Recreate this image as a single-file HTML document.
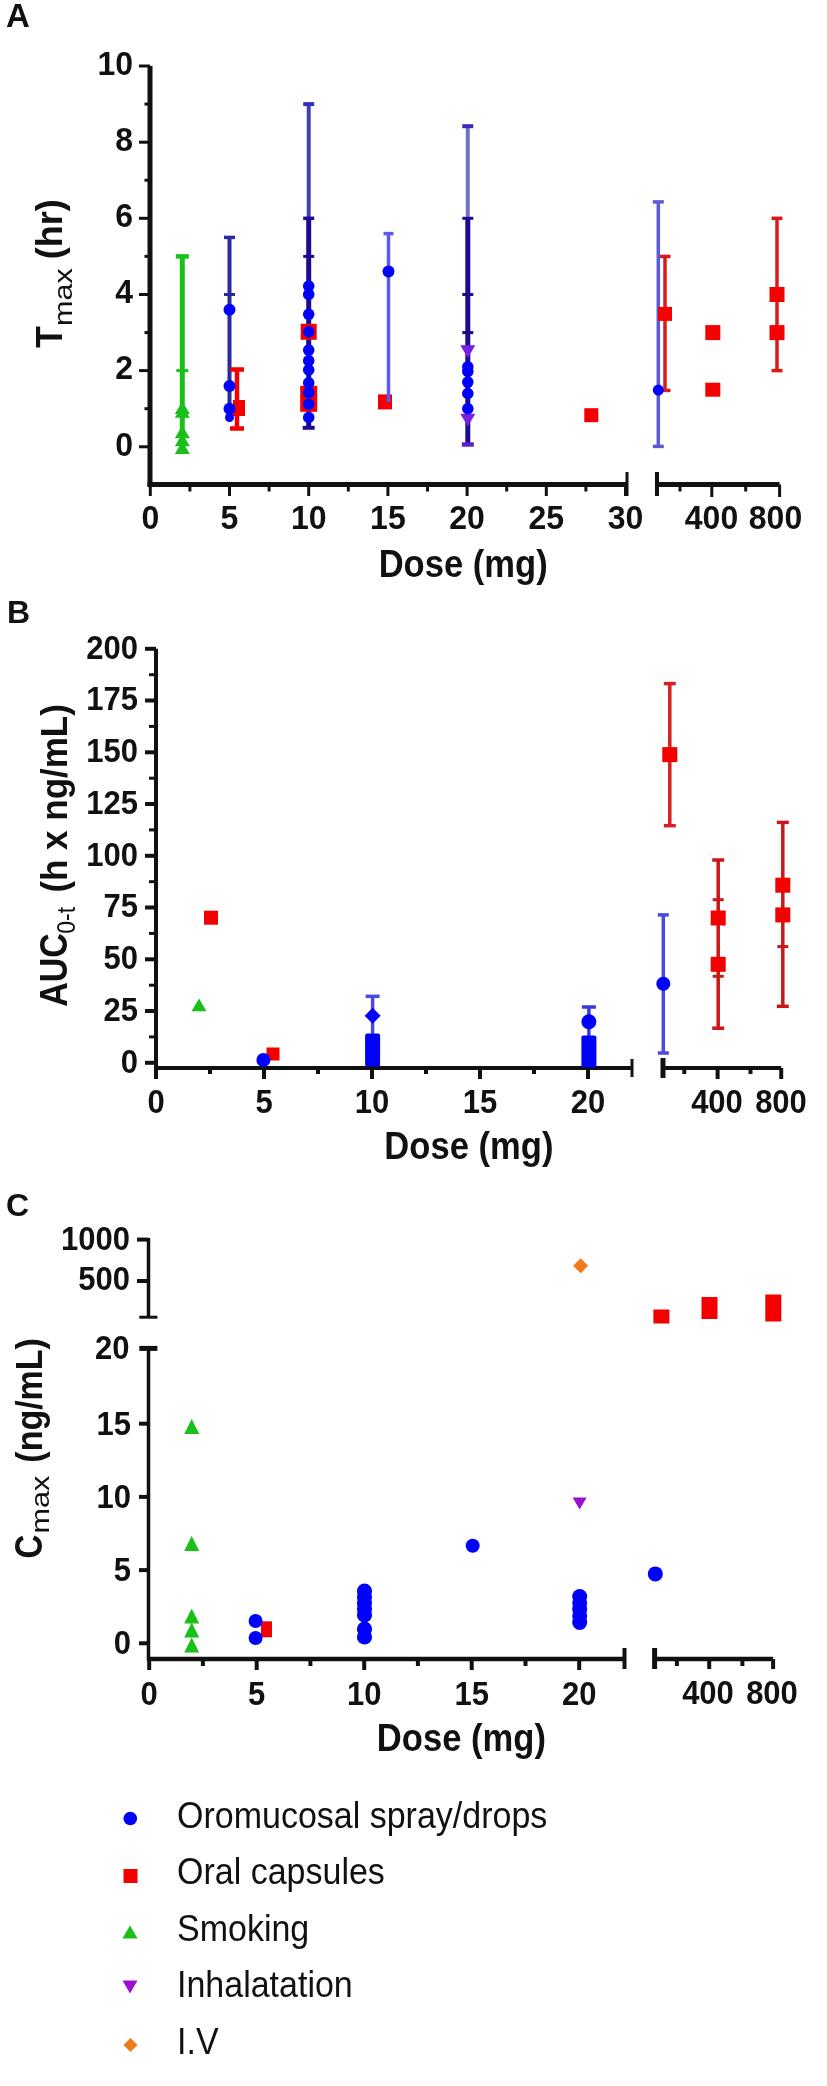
<!DOCTYPE html>
<html><head><meta charset="utf-8"><style>
html,body{margin:0;padding:0;background:#fff;width:827px;height:2086px;overflow:hidden}
svg{display:block;filter:blur(0.45px)}
text{font-family:"Liberation Sans", sans-serif;fill:#111}
</style></head><body>
<svg width="827" height="2086" viewBox="0 0 827 2086">
<text x="6.0" y="26.5" font-size="33" font-weight="bold" text-anchor="start" >A</text>
<text x="7.0" y="622.5" font-size="32" font-weight="bold" text-anchor="start" >B</text>
<text x="6.0" y="1216.0" font-size="32" font-weight="bold" text-anchor="start" >C</text>
<line x1="150.0" y1="66.0" x2="150.0" y2="486.5" stroke="#111" stroke-width="5" stroke-linecap="butt"/>
<line x1="147.5" y1="484.5" x2="627.0" y2="484.5" stroke="#111" stroke-width="5" stroke-linecap="butt"/>
<line x1="657.0" y1="484.5" x2="779.6" y2="484.5" stroke="#111" stroke-width="5" stroke-linecap="butt"/>
<line x1="627.0" y1="472.0" x2="627.0" y2="496.0" stroke="#111" stroke-width="3" stroke-linecap="butt"/>
<line x1="657.0" y1="472.0" x2="657.0" y2="496.0" stroke="#111" stroke-width="4" stroke-linecap="butt"/>
<line x1="139.0" y1="446.8" x2="150.0" y2="446.8" stroke="#111" stroke-width="3" stroke-linecap="butt"/>
<text transform="translate(133.0,455.6) scale(1,1.06)" font-size="32" font-weight="bold" text-anchor="end" >0</text>
<line x1="139.0" y1="370.6" x2="150.0" y2="370.6" stroke="#111" stroke-width="3" stroke-linecap="butt"/>
<text transform="translate(133.0,379.4) scale(1,1.06)" font-size="32" font-weight="bold" text-anchor="end" >2</text>
<line x1="139.0" y1="294.5" x2="150.0" y2="294.5" stroke="#111" stroke-width="3" stroke-linecap="butt"/>
<text transform="translate(133.0,303.3) scale(1,1.06)" font-size="32" font-weight="bold" text-anchor="end" >4</text>
<line x1="139.0" y1="218.3" x2="150.0" y2="218.3" stroke="#111" stroke-width="3" stroke-linecap="butt"/>
<text transform="translate(133.0,227.1) scale(1,1.06)" font-size="32" font-weight="bold" text-anchor="end" >6</text>
<line x1="139.0" y1="142.2" x2="150.0" y2="142.2" stroke="#111" stroke-width="3" stroke-linecap="butt"/>
<text transform="translate(133.0,151.0) scale(1,1.06)" font-size="32" font-weight="bold" text-anchor="end" >8</text>
<line x1="139.0" y1="66.0" x2="150.0" y2="66.0" stroke="#111" stroke-width="3" stroke-linecap="butt"/>
<text transform="translate(133.0,74.8) scale(1,1.06)" font-size="32" font-weight="bold" text-anchor="end" >10</text>
<line x1="144.5" y1="408.7" x2="150.0" y2="408.7" stroke="#111" stroke-width="3" stroke-linecap="butt"/>
<line x1="144.5" y1="332.6" x2="150.0" y2="332.6" stroke="#111" stroke-width="3" stroke-linecap="butt"/>
<line x1="144.5" y1="256.4" x2="150.0" y2="256.4" stroke="#111" stroke-width="3" stroke-linecap="butt"/>
<line x1="144.5" y1="180.2" x2="150.0" y2="180.2" stroke="#111" stroke-width="3" stroke-linecap="butt"/>
<line x1="144.5" y1="104.1" x2="150.0" y2="104.1" stroke="#111" stroke-width="3" stroke-linecap="butt"/>
<line x1="150.3" y1="484.5" x2="150.3" y2="496.0" stroke="#111" stroke-width="3" stroke-linecap="butt"/>
<text transform="translate(150.3,529.0) scale(1,1.06)" font-size="32" font-weight="bold" text-anchor="middle" >0</text>
<line x1="229.5" y1="484.5" x2="229.5" y2="496.0" stroke="#111" stroke-width="3" stroke-linecap="butt"/>
<text transform="translate(229.5,529.0) scale(1,1.06)" font-size="32" font-weight="bold" text-anchor="middle" >5</text>
<line x1="308.7" y1="484.5" x2="308.7" y2="496.0" stroke="#111" stroke-width="3" stroke-linecap="butt"/>
<text transform="translate(308.7,529.0) scale(1,1.06)" font-size="32" font-weight="bold" text-anchor="middle" >10</text>
<line x1="387.9" y1="484.5" x2="387.9" y2="496.0" stroke="#111" stroke-width="3" stroke-linecap="butt"/>
<text transform="translate(387.9,529.0) scale(1,1.06)" font-size="32" font-weight="bold" text-anchor="middle" >15</text>
<line x1="467.1" y1="484.5" x2="467.1" y2="496.0" stroke="#111" stroke-width="3" stroke-linecap="butt"/>
<text transform="translate(467.1,529.0) scale(1,1.06)" font-size="32" font-weight="bold" text-anchor="middle" >20</text>
<line x1="546.3" y1="484.5" x2="546.3" y2="496.0" stroke="#111" stroke-width="3" stroke-linecap="butt"/>
<text transform="translate(546.3,529.0) scale(1,1.06)" font-size="32" font-weight="bold" text-anchor="middle" >25</text>
<line x1="625.5" y1="484.5" x2="625.5" y2="496.0" stroke="#111" stroke-width="3" stroke-linecap="butt"/>
<text transform="translate(625.5,529.0) scale(1,1.06)" font-size="32" font-weight="bold" text-anchor="middle" >30</text>
<line x1="189.9" y1="484.5" x2="189.9" y2="491.5" stroke="#111" stroke-width="3" stroke-linecap="butt"/>
<line x1="269.1" y1="484.5" x2="269.1" y2="491.5" stroke="#111" stroke-width="3" stroke-linecap="butt"/>
<line x1="348.3" y1="484.5" x2="348.3" y2="491.5" stroke="#111" stroke-width="3" stroke-linecap="butt"/>
<line x1="427.5" y1="484.5" x2="427.5" y2="491.5" stroke="#111" stroke-width="3" stroke-linecap="butt"/>
<line x1="506.7" y1="484.5" x2="506.7" y2="491.5" stroke="#111" stroke-width="3" stroke-linecap="butt"/>
<line x1="585.9" y1="484.5" x2="585.9" y2="491.5" stroke="#111" stroke-width="3" stroke-linecap="butt"/>
<line x1="680.0" y1="484.5" x2="680.0" y2="491.5" stroke="#111" stroke-width="3" stroke-linecap="butt"/>
<line x1="745.7" y1="484.5" x2="745.7" y2="491.5" stroke="#111" stroke-width="3" stroke-linecap="butt"/>
<line x1="711.8" y1="484.5" x2="711.8" y2="497.0" stroke="#111" stroke-width="3" stroke-linecap="butt"/>
<line x1="779.6" y1="484.5" x2="779.6" y2="497.0" stroke="#111" stroke-width="3" stroke-linecap="butt"/>
<text transform="translate(711.5,529.0) scale(1,1.06)" font-size="32" font-weight="bold" text-anchor="middle" >400</text>
<text transform="translate(775.5,529.0) scale(1,1.06)" font-size="32" font-weight="bold" text-anchor="middle" >800</text>
<text transform="translate(463.2,576.8) scale(1,1.1)" font-size="34.6" font-weight="bold" text-anchor="middle" >Dose (mg)</text>
<g transform="translate(61.6,347.9) rotate(-90)"><text x="0" y="0" font-size="36" font-weight="bold">T</text><g transform="translate(22,9.9) scale(1,0.85)"><text x="0" y="0" font-size="30.6" font-weight="normal">max</text></g><text x="88.6" y="0" font-size="36" font-weight="bold">(hr)</text></g>
<line x1="182.3" y1="256.4" x2="182.3" y2="448.7" stroke="#18c018" stroke-width="5" stroke-linecap="butt"/>
<line x1="175.8" y1="256.4" x2="188.8" y2="256.4" stroke="#18c018" stroke-width="4.5" stroke-linecap="butt"/>
<line x1="176.3" y1="370.6" x2="188.3" y2="370.6" stroke="#18c018" stroke-width="3" stroke-linecap="butt"/>
<polygon points="174.8,414.0 189.8,414.0 182.3,401.2" fill="#18c018"/>
<polygon points="174.8,417.8 189.8,417.8 182.3,405.0" fill="#18c018"/>
<polygon points="174.8,438.3 189.8,438.3 182.3,425.6" fill="#18c018"/>
<polygon points="174.8,446.3 189.8,446.3 182.3,433.6" fill="#18c018"/>
<polygon points="174.8,453.9 189.8,453.9 182.3,441.2" fill="#18c018"/>
<line x1="229.5" y1="237.4" x2="229.5" y2="420.1" stroke="#2a2aa0" stroke-width="4" stroke-linecap="butt"/>
<line x1="224.0" y1="237.4" x2="235.0" y2="237.4" stroke="#2a2aa0" stroke-width="3.5" stroke-linecap="butt"/>
<line x1="224.0" y1="294.5" x2="235.0" y2="294.5" stroke="#2a2aa0" stroke-width="3" stroke-linecap="butt"/>
<line x1="237.0" y1="369.5" x2="237.0" y2="428.5" stroke="#f40000" stroke-width="4.5" stroke-linecap="butt"/>
<line x1="230.0" y1="369.5" x2="244.0" y2="369.5" stroke="#f40000" stroke-width="4.5" stroke-linecap="butt"/>
<line x1="230.0" y1="428.5" x2="244.0" y2="428.5" stroke="#f40000" stroke-width="4.5" stroke-linecap="butt"/>
<rect x="233.0" y="400.0" width="12" height="16" fill="#f40000"/>
<circle cx="229.5" cy="309.7" r="6" fill="#0000ff"/>
<circle cx="229.5" cy="385.9" r="6" fill="#0000ff"/>
<circle cx="229.5" cy="408.7" r="6" fill="#0000ff"/>
<circle cx="229.5" cy="417.5" r="4.5" fill="#0000ff"/>
<line x1="308.7" y1="104.1" x2="308.7" y2="218.3" stroke="#4040b0" stroke-width="4" stroke-linecap="butt"/>
<line x1="303.2" y1="104.1" x2="314.2" y2="104.1" stroke="#3030c0" stroke-width="4" stroke-linecap="butt"/>
<line x1="308.7" y1="218.3" x2="308.7" y2="427.8" stroke="#1c0a90" stroke-width="5" stroke-linecap="butt"/>
<line x1="303.2" y1="218.3" x2="314.2" y2="218.3" stroke="#1c0a90" stroke-width="3.5" stroke-linecap="butt"/>
<line x1="303.2" y1="256.4" x2="314.2" y2="256.4" stroke="#1c0a90" stroke-width="3" stroke-linecap="butt"/>
<line x1="302.7" y1="427.8" x2="314.7" y2="427.8" stroke="#1c0a90" stroke-width="4" stroke-linecap="butt"/>
<rect x="300.7" y="323.8" width="16" height="16" fill="#f40000"/>
<rect x="300.2" y="385.8" width="17" height="26" fill="#f40000"/>
<circle cx="308.7" cy="286.1" r="5.8" fill="#0000ff"/>
<circle cx="308.7" cy="294.5" r="5.8" fill="#0000ff"/>
<circle cx="308.7" cy="314.3" r="5.8" fill="#0000ff"/>
<circle cx="308.7" cy="331.8" r="5.8" fill="#0000ff"/>
<circle cx="308.7" cy="350.1" r="5.8" fill="#0000ff"/>
<circle cx="308.7" cy="360.7" r="5.8" fill="#0000ff"/>
<circle cx="308.7" cy="369.9" r="5.8" fill="#0000ff"/>
<circle cx="308.7" cy="382.8" r="5.8" fill="#0000ff"/>
<circle cx="308.7" cy="392.7" r="5.8" fill="#0000ff"/>
<circle cx="308.7" cy="404.2" r="5.8" fill="#0000ff"/>
<circle cx="308.7" cy="417.5" r="5.8" fill="#0000ff"/>
<rect x="378.0" y="394.4" width="14" height="15" fill="#f40000"/>
<line x1="388.5" y1="233.6" x2="388.5" y2="401.9" stroke="#5a5aee" stroke-width="3.5" stroke-linecap="butt"/>
<line x1="383.5" y1="233.6" x2="393.5" y2="233.6" stroke="#5a5aee" stroke-width="3.5" stroke-linecap="butt"/>
<circle cx="388.5" cy="271.6" r="6" fill="#0000ff"/>
<line x1="467.8" y1="126.2" x2="467.8" y2="218.3" stroke="#7070c4" stroke-width="4" stroke-linecap="butt"/>
<line x1="462.3" y1="126.2" x2="473.3" y2="126.2" stroke="#3a2ab8" stroke-width="4" stroke-linecap="butt"/>
<line x1="467.8" y1="218.3" x2="467.8" y2="444.5" stroke="#1c0a90" stroke-width="5" stroke-linecap="butt"/>
<line x1="462.3" y1="218.3" x2="473.3" y2="218.3" stroke="#1c0a90" stroke-width="3" stroke-linecap="butt"/>
<line x1="462.3" y1="294.5" x2="473.3" y2="294.5" stroke="#1c0a90" stroke-width="3" stroke-linecap="butt"/>
<line x1="462.3" y1="332.6" x2="473.3" y2="332.6" stroke="#1c0a90" stroke-width="3" stroke-linecap="butt"/>
<line x1="461.8" y1="444.5" x2="473.8" y2="444.5" stroke="#5a20d0" stroke-width="4.5" stroke-linecap="butt"/>
<polygon points="460.3,345.2 475.3,345.2 467.8,358.0" fill="#7a20e0"/>
<polygon points="460.3,413.8 475.3,413.8 467.8,426.5" fill="#7a20e0"/>
<circle cx="467.8" cy="366.8" r="5.8" fill="#0000ff"/>
<circle cx="467.8" cy="371.4" r="5.8" fill="#0000ff"/>
<circle cx="467.8" cy="382.1" r="5.8" fill="#0000ff"/>
<circle cx="467.8" cy="393.5" r="5.8" fill="#0000ff"/>
<circle cx="467.8" cy="408.7" r="5.8" fill="#0000ff"/>
<rect x="584.3" y="408.2" width="14" height="14" fill="#f40000"/>
<line x1="665.0" y1="256.4" x2="665.0" y2="390.4" stroke="#d81a1a" stroke-width="3.5" stroke-linecap="butt"/>
<line x1="659.5" y1="256.4" x2="670.5" y2="256.4" stroke="#d81a1a" stroke-width="3.5" stroke-linecap="butt"/>
<line x1="659.5" y1="390.4" x2="670.5" y2="390.4" stroke="#d81a1a" stroke-width="3.5" stroke-linecap="butt"/>
<line x1="658.3" y1="201.9" x2="658.3" y2="446.4" stroke="#5a5ad8" stroke-width="3.5" stroke-linecap="butt"/>
<line x1="652.8" y1="201.9" x2="663.8" y2="201.9" stroke="#5a5ad8" stroke-width="3.5" stroke-linecap="butt"/>
<line x1="652.8" y1="446.4" x2="663.8" y2="446.4" stroke="#5a5ad8" stroke-width="3.5" stroke-linecap="butt"/>
<rect x="658.0" y="306.9" width="14" height="14" fill="#f40000"/>
<circle cx="658.3" cy="390.1" r="5.5" fill="#0000ff"/>
<rect x="705.3" y="325.1" width="15" height="15" fill="#f40000"/>
<rect x="705.3" y="382.7" width="15" height="14" fill="#f40000"/>
<line x1="777.0" y1="218.3" x2="777.0" y2="370.6" stroke="#d81a1a" stroke-width="3.5" stroke-linecap="butt"/>
<line x1="771.5" y1="218.3" x2="782.5" y2="218.3" stroke="#d81a1a" stroke-width="3.5" stroke-linecap="butt"/>
<line x1="771.5" y1="370.6" x2="782.5" y2="370.6" stroke="#d81a1a" stroke-width="3.5" stroke-linecap="butt"/>
<rect x="769.5" y="287.0" width="15" height="15" fill="#f40000"/>
<rect x="769.5" y="325.1" width="15" height="15" fill="#f40000"/>
<line x1="156.0" y1="648.8" x2="156.0" y2="1070.0" stroke="#111" stroke-width="4" stroke-linecap="butt"/>
<line x1="154.0" y1="1068.0" x2="632.0" y2="1068.0" stroke="#111" stroke-width="4" stroke-linecap="butt"/>
<line x1="663.0" y1="1068.0" x2="781.2" y2="1068.0" stroke="#111" stroke-width="4" stroke-linecap="butt"/>
<line x1="632.0" y1="1059.0" x2="632.0" y2="1077.0" stroke="#111" stroke-width="3" stroke-linecap="butt"/>
<line x1="663.0" y1="1058.0" x2="663.0" y2="1078.0" stroke="#111" stroke-width="5" stroke-linecap="butt"/>
<line x1="145.0" y1="1062.8" x2="156.0" y2="1062.8" stroke="#111" stroke-width="4" stroke-linecap="butt"/>
<text transform="translate(138.0,1072.6) scale(1,1.07)" font-size="31" font-weight="bold" text-anchor="end" >0</text>
<line x1="145.0" y1="1011.0" x2="156.0" y2="1011.0" stroke="#111" stroke-width="4" stroke-linecap="butt"/>
<text transform="translate(138.0,1020.8) scale(1,1.07)" font-size="31" font-weight="bold" text-anchor="end" >25</text>
<line x1="145.0" y1="959.3" x2="156.0" y2="959.3" stroke="#111" stroke-width="4" stroke-linecap="butt"/>
<text transform="translate(138.0,969.1) scale(1,1.07)" font-size="31" font-weight="bold" text-anchor="end" >50</text>
<line x1="145.0" y1="907.5" x2="156.0" y2="907.5" stroke="#111" stroke-width="4" stroke-linecap="butt"/>
<text transform="translate(138.0,917.3) scale(1,1.07)" font-size="31" font-weight="bold" text-anchor="end" >75</text>
<line x1="145.0" y1="855.8" x2="156.0" y2="855.8" stroke="#111" stroke-width="4" stroke-linecap="butt"/>
<text transform="translate(138.0,865.6) scale(1,1.07)" font-size="31" font-weight="bold" text-anchor="end" >100</text>
<line x1="145.0" y1="804.0" x2="156.0" y2="804.0" stroke="#111" stroke-width="4" stroke-linecap="butt"/>
<text transform="translate(138.0,813.8) scale(1,1.07)" font-size="31" font-weight="bold" text-anchor="end" >125</text>
<line x1="145.0" y1="752.3" x2="156.0" y2="752.3" stroke="#111" stroke-width="4" stroke-linecap="butt"/>
<text transform="translate(138.0,762.1) scale(1,1.07)" font-size="31" font-weight="bold" text-anchor="end" >150</text>
<line x1="145.0" y1="700.5" x2="156.0" y2="700.5" stroke="#111" stroke-width="4" stroke-linecap="butt"/>
<text transform="translate(138.0,710.3) scale(1,1.07)" font-size="31" font-weight="bold" text-anchor="end" >175</text>
<line x1="145.0" y1="648.8" x2="156.0" y2="648.8" stroke="#111" stroke-width="4" stroke-linecap="butt"/>
<text transform="translate(138.0,658.6) scale(1,1.07)" font-size="31" font-weight="bold" text-anchor="end" >200</text>
<line x1="149.0" y1="1036.9" x2="156.0" y2="1036.9" stroke="#111" stroke-width="3" stroke-linecap="butt"/>
<line x1="149.0" y1="985.2" x2="156.0" y2="985.2" stroke="#111" stroke-width="3" stroke-linecap="butt"/>
<line x1="149.0" y1="933.4" x2="156.0" y2="933.4" stroke="#111" stroke-width="3" stroke-linecap="butt"/>
<line x1="149.0" y1="881.7" x2="156.0" y2="881.7" stroke="#111" stroke-width="3" stroke-linecap="butt"/>
<line x1="149.0" y1="829.9" x2="156.0" y2="829.9" stroke="#111" stroke-width="3" stroke-linecap="butt"/>
<line x1="149.0" y1="778.2" x2="156.0" y2="778.2" stroke="#111" stroke-width="3" stroke-linecap="butt"/>
<line x1="149.0" y1="726.4" x2="156.0" y2="726.4" stroke="#111" stroke-width="3" stroke-linecap="butt"/>
<line x1="149.0" y1="674.7" x2="156.0" y2="674.7" stroke="#111" stroke-width="3" stroke-linecap="butt"/>
<line x1="156.0" y1="1068.0" x2="156.0" y2="1079.0" stroke="#111" stroke-width="4" stroke-linecap="butt"/>
<text transform="translate(156.0,1113.0) scale(1,1.07)" font-size="31" font-weight="bold" text-anchor="middle" >0</text>
<line x1="264.0" y1="1068.0" x2="264.0" y2="1079.0" stroke="#111" stroke-width="4" stroke-linecap="butt"/>
<text transform="translate(264.0,1113.0) scale(1,1.07)" font-size="31" font-weight="bold" text-anchor="middle" >5</text>
<line x1="372.0" y1="1068.0" x2="372.0" y2="1079.0" stroke="#111" stroke-width="4" stroke-linecap="butt"/>
<text transform="translate(372.0,1113.0) scale(1,1.07)" font-size="31" font-weight="bold" text-anchor="middle" >10</text>
<line x1="480.0" y1="1068.0" x2="480.0" y2="1079.0" stroke="#111" stroke-width="4" stroke-linecap="butt"/>
<text transform="translate(480.0,1113.0) scale(1,1.07)" font-size="31" font-weight="bold" text-anchor="middle" >15</text>
<line x1="588.0" y1="1068.0" x2="588.0" y2="1079.0" stroke="#111" stroke-width="4" stroke-linecap="butt"/>
<text transform="translate(588.0,1113.0) scale(1,1.07)" font-size="31" font-weight="bold" text-anchor="middle" >20</text>
<line x1="210.0" y1="1068.0" x2="210.0" y2="1074.0" stroke="#111" stroke-width="4" stroke-linecap="butt"/>
<line x1="318.0" y1="1068.0" x2="318.0" y2="1074.0" stroke="#111" stroke-width="4" stroke-linecap="butt"/>
<line x1="426.0" y1="1068.0" x2="426.0" y2="1074.0" stroke="#111" stroke-width="4" stroke-linecap="butt"/>
<line x1="534.0" y1="1068.0" x2="534.0" y2="1074.0" stroke="#111" stroke-width="4" stroke-linecap="butt"/>
<line x1="684.3" y1="1068.0" x2="684.3" y2="1074.0" stroke="#111" stroke-width="4" stroke-linecap="butt"/>
<line x1="750.5" y1="1068.0" x2="750.5" y2="1074.0" stroke="#111" stroke-width="4" stroke-linecap="butt"/>
<line x1="717.6" y1="1068.0" x2="717.6" y2="1079.0" stroke="#111" stroke-width="4" stroke-linecap="butt"/>
<line x1="781.2" y1="1068.0" x2="781.2" y2="1079.0" stroke="#111" stroke-width="4" stroke-linecap="butt"/>
<text transform="translate(717.0,1113.0) scale(1,1.07)" font-size="31" font-weight="bold" text-anchor="middle" >400</text>
<text transform="translate(781.0,1113.0) scale(1,1.07)" font-size="31" font-weight="bold" text-anchor="middle" >800</text>
<text transform="translate(468.9,1158.8) scale(1,1.1)" font-size="34.6" font-weight="bold" text-anchor="middle" >Dose (mg)</text>
<g transform="translate(67,1006.8) rotate(-90) scale(1,1.16)"><text x="0" y="0" font-size="34" font-weight="bold">AUC</text><text x="73" y="7.1" font-size="23" font-weight="normal">0-t</text></g><g transform="translate(67,1006.8) rotate(-90) scale(1,1.08)"><text x="114.2" y="0" font-size="35" font-weight="bold">(h x ng/mL)</text></g>
<rect x="204.0" y="910.7" width="14" height="14" fill="#f40000"/>
<polygon points="191.5,1011.2 206.5,1011.2 199.0,998.5" fill="#18c018"/>
<rect x="266.5" y="1047.5" width="13" height="13" fill="#f40000"/>
<circle cx="263.4" cy="1060.0" r="7" fill="#0000ff"/>
<line x1="372.6" y1="996.3" x2="372.6" y2="1060.0" stroke="#4a4ae0" stroke-width="3.5" stroke-linecap="butt"/>
<line x1="365.6" y1="996.3" x2="379.6" y2="996.3" stroke="#4a4ae0" stroke-width="3.5" stroke-linecap="butt"/>
<polygon points="364.6,1015.8 372.6,1007.8 380.6,1015.8 372.6,1023.8" fill="#0000ff"/>
<rect x="365.1" y="1033.5" width="15" height="33" rx="2" fill="#0000ff"/>
<line x1="588.9" y1="1007.0" x2="588.9" y2="1060.0" stroke="#3a3ad8" stroke-width="3.5" stroke-linecap="butt"/>
<line x1="581.9" y1="1007.0" x2="595.9" y2="1007.0" stroke="#3a3ad8" stroke-width="3.5" stroke-linecap="butt"/>
<circle cx="588.9" cy="1021.7" r="7.5" fill="#0000ff"/>
<rect x="581.4" y="1035.5" width="15" height="32" rx="2" fill="#0000ff"/>
<line x1="663.3" y1="914.9" x2="663.3" y2="1053.0" stroke="#4a4ae0" stroke-width="3.5" stroke-linecap="butt"/>
<line x1="657.8" y1="914.9" x2="668.8" y2="914.9" stroke="#4a4ae0" stroke-width="3.5" stroke-linecap="butt"/>
<line x1="657.8" y1="1053.0" x2="668.8" y2="1053.0" stroke="#4a4ae0" stroke-width="3.5" stroke-linecap="butt"/>
<circle cx="663.3" cy="983.7" r="7" fill="#0000ff"/>
<line x1="669.8" y1="683.6" x2="669.8" y2="825.7" stroke="#d42020" stroke-width="3.5" stroke-linecap="butt"/>
<line x1="663.8" y1="683.6" x2="675.8" y2="683.6" stroke="#d42020" stroke-width="3.5" stroke-linecap="butt"/>
<line x1="663.8" y1="825.7" x2="675.8" y2="825.7" stroke="#d42020" stroke-width="3.5" stroke-linecap="butt"/>
<rect x="662.3" y="747.1" width="15" height="15" fill="#f40000"/>
<line x1="718.2" y1="860.0" x2="718.2" y2="1028.2" stroke="#c81818" stroke-width="3.5" stroke-linecap="butt"/>
<line x1="712.2" y1="860.0" x2="724.2" y2="860.0" stroke="#c81818" stroke-width="3.5" stroke-linecap="butt"/>
<line x1="712.2" y1="1028.2" x2="724.2" y2="1028.2" stroke="#c81818" stroke-width="3.5" stroke-linecap="butt"/>
<line x1="712.7" y1="899.7" x2="723.7" y2="899.7" stroke="#c81818" stroke-width="3" stroke-linecap="butt"/>
<line x1="712.7" y1="976.3" x2="723.7" y2="976.3" stroke="#c81818" stroke-width="3" stroke-linecap="butt"/>
<rect x="710.7" y="910.5" width="15" height="15" fill="#f40000"/>
<rect x="710.7" y="956.8" width="15" height="15" fill="#f40000"/>
<line x1="782.8" y1="822.4" x2="782.8" y2="1006.3" stroke="#c81818" stroke-width="3.5" stroke-linecap="butt"/>
<line x1="776.8" y1="822.4" x2="788.8" y2="822.4" stroke="#c81818" stroke-width="3.5" stroke-linecap="butt"/>
<line x1="776.8" y1="1006.3" x2="788.8" y2="1006.3" stroke="#c81818" stroke-width="3.5" stroke-linecap="butt"/>
<line x1="777.3" y1="946.6" x2="788.3" y2="946.6" stroke="#c81818" stroke-width="3" stroke-linecap="butt"/>
<rect x="775.3" y="877.7" width="15" height="15" fill="#f40000"/>
<rect x="775.3" y="907.4" width="15" height="15" fill="#f40000"/>
<line x1="148.5" y1="1238.0" x2="148.5" y2="1317.2" stroke="#111" stroke-width="3.5" stroke-linecap="butt"/>
<line x1="139.3" y1="1317.2" x2="157.4" y2="1317.2" stroke="#111" stroke-width="3" stroke-linecap="butt"/>
<line x1="137.0" y1="1239.6" x2="148.5" y2="1239.6" stroke="#111" stroke-width="4" stroke-linecap="butt"/>
<line x1="137.0" y1="1281.0" x2="148.5" y2="1281.0" stroke="#111" stroke-width="4" stroke-linecap="butt"/>
<text transform="translate(130.0,1250.0) scale(1,1.07)" font-size="31" font-weight="bold" text-anchor="end" >1000</text>
<text transform="translate(130.0,1289.5) scale(1,1.07)" font-size="31" font-weight="bold" text-anchor="end" >500</text>
<line x1="148.5" y1="1348.4" x2="148.5" y2="1661.0" stroke="#111" stroke-width="3.5" stroke-linecap="butt"/>
<line x1="139.3" y1="1348.4" x2="157.4" y2="1348.4" stroke="#111" stroke-width="5" stroke-linecap="butt"/>
<line x1="139.0" y1="1643.3" x2="148.5" y2="1643.3" stroke="#111" stroke-width="4" stroke-linecap="butt"/>
<text transform="translate(131.0,1654.3) scale(1,1.07)" font-size="31" font-weight="bold" text-anchor="end" >0</text>
<line x1="139.0" y1="1570.1" x2="148.5" y2="1570.1" stroke="#111" stroke-width="4" stroke-linecap="butt"/>
<text transform="translate(131.0,1581.1) scale(1,1.07)" font-size="31" font-weight="bold" text-anchor="end" >5</text>
<line x1="139.0" y1="1496.9" x2="148.5" y2="1496.9" stroke="#111" stroke-width="4" stroke-linecap="butt"/>
<text transform="translate(131.0,1507.9) scale(1,1.07)" font-size="31" font-weight="bold" text-anchor="end" >10</text>
<line x1="139.0" y1="1423.7" x2="148.5" y2="1423.7" stroke="#111" stroke-width="4" stroke-linecap="butt"/>
<text transform="translate(131.0,1434.7) scale(1,1.07)" font-size="31" font-weight="bold" text-anchor="end" >15</text>
<text transform="translate(129.5,1358.8) scale(1,1.07)" font-size="31" font-weight="bold" text-anchor="end" >20</text>
<line x1="147.0" y1="1659.0" x2="624.5" y2="1659.0" stroke="#111" stroke-width="4.5" stroke-linecap="butt"/>
<line x1="654.6" y1="1659.0" x2="773.1" y2="1659.0" stroke="#111" stroke-width="4.5" stroke-linecap="butt"/>
<line x1="624.5" y1="1648.0" x2="624.5" y2="1669.0" stroke="#111" stroke-width="4" stroke-linecap="butt"/>
<line x1="654.6" y1="1648.0" x2="654.6" y2="1669.0" stroke="#111" stroke-width="5" stroke-linecap="butt"/>
<line x1="149.2" y1="1659.0" x2="149.2" y2="1670.0" stroke="#111" stroke-width="4" stroke-linecap="butt"/>
<text transform="translate(149.2,1705.0) scale(1,1.07)" font-size="31" font-weight="bold" text-anchor="middle" >0</text>
<line x1="256.7" y1="1659.0" x2="256.7" y2="1670.0" stroke="#111" stroke-width="4" stroke-linecap="butt"/>
<text transform="translate(256.7,1705.0) scale(1,1.07)" font-size="31" font-weight="bold" text-anchor="middle" >5</text>
<line x1="364.2" y1="1659.0" x2="364.2" y2="1670.0" stroke="#111" stroke-width="4" stroke-linecap="butt"/>
<text transform="translate(364.2,1705.0) scale(1,1.07)" font-size="31" font-weight="bold" text-anchor="middle" >10</text>
<line x1="471.7" y1="1659.0" x2="471.7" y2="1670.0" stroke="#111" stroke-width="4" stroke-linecap="butt"/>
<text transform="translate(471.7,1705.0) scale(1,1.07)" font-size="31" font-weight="bold" text-anchor="middle" >15</text>
<line x1="579.2" y1="1659.0" x2="579.2" y2="1670.0" stroke="#111" stroke-width="4" stroke-linecap="butt"/>
<text transform="translate(579.2,1705.0) scale(1,1.07)" font-size="31" font-weight="bold" text-anchor="middle" >20</text>
<line x1="202.9" y1="1659.0" x2="202.9" y2="1666.0" stroke="#111" stroke-width="4" stroke-linecap="butt"/>
<line x1="310.4" y1="1659.0" x2="310.4" y2="1666.0" stroke="#111" stroke-width="4" stroke-linecap="butt"/>
<line x1="417.9" y1="1659.0" x2="417.9" y2="1666.0" stroke="#111" stroke-width="4" stroke-linecap="butt"/>
<line x1="525.5" y1="1659.0" x2="525.5" y2="1666.0" stroke="#111" stroke-width="4" stroke-linecap="butt"/>
<line x1="676.9" y1="1659.0" x2="676.9" y2="1666.0" stroke="#111" stroke-width="4" stroke-linecap="butt"/>
<line x1="742.4" y1="1659.0" x2="742.4" y2="1666.0" stroke="#111" stroke-width="4" stroke-linecap="butt"/>
<line x1="709.2" y1="1659.0" x2="709.2" y2="1669.0" stroke="#111" stroke-width="4" stroke-linecap="butt"/>
<line x1="773.1" y1="1659.0" x2="773.1" y2="1669.0" stroke="#111" stroke-width="4" stroke-linecap="butt"/>
<text transform="translate(708.0,1704.0) scale(1,1.07)" font-size="31" font-weight="bold" text-anchor="middle" >400</text>
<text transform="translate(772.0,1704.0) scale(1,1.07)" font-size="31" font-weight="bold" text-anchor="middle" >800</text>
<text transform="translate(461.4,1750.5) scale(1,1.1)" font-size="34.6" font-weight="bold" text-anchor="middle" >Dose (mg)</text>
<g transform="translate(41.5,1558.4) rotate(-90)"><g transform="scale(1,1.17)"><text x="0" y="0" font-size="33" font-weight="bold">C</text></g><g transform="translate(24.9,7.5) scale(1,0.87)"><text x="0" y="0" font-size="30.6" font-weight="normal">max</text></g><g transform="scale(1,1.08)"><text x="95.75" y="0" font-size="34" font-weight="bold">(ng/mL)</text></g></g>
<polygon points="573.1,1265.8 580.6,1258.3 588.1,1265.8 580.6,1273.3" fill="#f07a18"/>
<rect x="653.4" y="1309.5" width="16" height="14" fill="#f40000"/>
<rect x="701.5" y="1297.0" width="16" height="22" fill="#f40000"/>
<rect x="765.3" y="1294.5" width="16" height="27" fill="#f40000"/>
<polygon points="184.2,1434.0 199.2,1434.0 191.7,1419.0" fill="#18c018"/>
<polygon points="184.2,1551.1 199.2,1551.1 191.7,1536.1" fill="#18c018"/>
<polygon points="184.2,1623.5 199.2,1623.5 191.7,1608.5" fill="#18c018"/>
<polygon points="184.2,1637.5 199.2,1637.5 191.7,1622.5" fill="#18c018"/>
<polygon points="184.2,1652.5 199.2,1652.5 191.7,1637.5" fill="#18c018"/>
<rect x="261.0" y="1621.3" width="11" height="16" fill="#f40000"/>
<circle cx="255.6" cy="1621.0" r="7" fill="#0000ff"/>
<circle cx="255.6" cy="1638.0" r="7" fill="#0000ff"/>
<rect x="358.5" y="1596.0" width="12" height="16" fill="#f40000"/>
<circle cx="364.5" cy="1591.0" r="7.6" fill="#0000ff"/>
<circle cx="364.5" cy="1597.0" r="7.6" fill="#0000ff"/>
<circle cx="364.5" cy="1603.0" r="7.6" fill="#0000ff"/>
<circle cx="364.5" cy="1609.0" r="7.6" fill="#0000ff"/>
<circle cx="364.5" cy="1615.0" r="7.6" fill="#0000ff"/>
<circle cx="364.5" cy="1629.0" r="7.6" fill="#0000ff"/>
<circle cx="364.5" cy="1637.0" r="7.6" fill="#0000ff"/>
<circle cx="472.7" cy="1545.8" r="7" fill="#0000ff"/>
<polygon points="572.6,1497.5 586.6,1497.5 579.6,1509.5" fill="#9a10d0"/>
<circle cx="579.7" cy="1596.5" r="7.5" fill="#0000ff"/>
<circle cx="579.7" cy="1603.0" r="7.5" fill="#0000ff"/>
<circle cx="579.7" cy="1609.5" r="7.5" fill="#0000ff"/>
<circle cx="579.7" cy="1616.0" r="7.5" fill="#0000ff"/>
<circle cx="579.7" cy="1622.5" r="7.5" fill="#0000ff"/>
<circle cx="655.3" cy="1573.9" r="7.5" fill="#0000ff"/>
<circle cx="130.3" cy="1818.5" r="6.8" fill="#0000ff"/>
<rect x="123.5" y="1869.0" width="14" height="14" fill="#f40000"/>
<polygon points="122.5,1938.4 137.5,1938.4 130.0,1925.6" fill="#18c018"/>
<polygon points="122.5,1980.6 137.5,1980.6 130.0,1993.4" fill="#9a10d0"/>
<polygon points="123.5,2045.0 130.5,2038.0 137.5,2045.0 130.5,2052.0" fill="#f07a18"/>
<text transform="translate(177.0,1828.0) scale(1,1.1)" font-size="34" font-weight="normal" text-anchor="start" >Oromucosal spray/drops</text>
<text transform="translate(177.0,1884.4) scale(1,1.1)" font-size="34" font-weight="normal" text-anchor="start" >Oral capsules</text>
<text transform="translate(177.0,1940.8) scale(1,1.1)" font-size="34" font-weight="normal" text-anchor="start" >Smoking</text>
<text transform="translate(177.0,1997.2) scale(1,1.1)" font-size="34" font-weight="normal" text-anchor="start" >Inhalatation</text>
<text transform="translate(177.0,2053.6) scale(1,1.1)" font-size="34" font-weight="normal" text-anchor="start" >I.V</text>
</svg>
</body></html>
